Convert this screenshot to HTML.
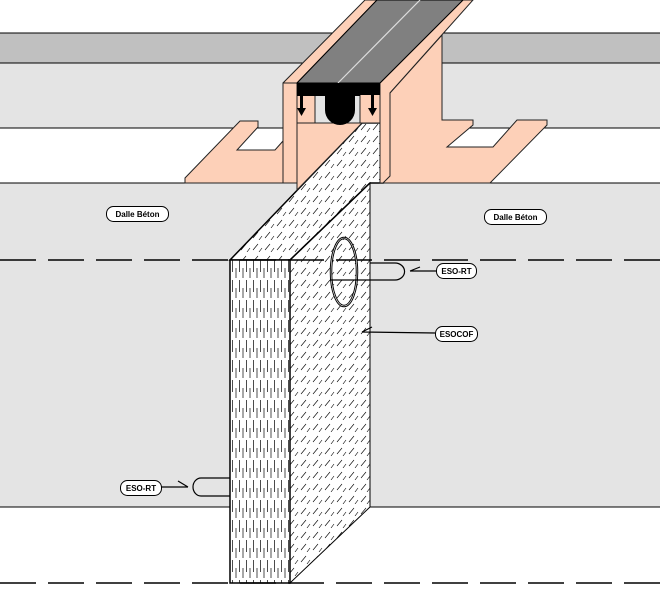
<!DOCTYPE html>
<html><head><meta charset="utf-8"><style>
html,body{margin:0;padding:0;background:#fff}
svg{display:block}
text{font-family:"Liberation Sans",sans-serif;font-weight:bold;font-size:8px}
</style></head><body>
<svg width="660" height="616" viewBox="0 0 660 616" xmlns="http://www.w3.org/2000/svg">
<defs>
<pattern id="vert" width="7" height="20" patternUnits="userSpaceOnUse">
<rect width="7" height="20" fill="#fff"/>
<line x1="1.5" y1="0" x2="1.5" y2="12" stroke="#000" stroke-width="0.7"/>
<line x1="5" y1="8" x2="5" y2="18" stroke="#000" stroke-width="0.7"/>
</pattern>
<pattern id="diag" width="12" height="12" patternUnits="userSpaceOnUse">
<rect width="12" height="12" fill="#fff"/>
<line x1="1" y1="10" x2="6" y2="4" stroke="#000" stroke-width="0.6"/>
<line x1="7" y1="12" x2="10" y2="8" stroke="#000" stroke-width="0.6"/>
</pattern>
</defs>
<rect x="0" y="33" width="660" height="30" fill="#c0c0c0"/>
<rect x="0" y="63" width="660" height="65" fill="#e4e4e4"/>
<rect x="0" y="183" width="660" height="324" fill="#e4e4e4"/>
<g stroke="#000" stroke-width="1">
<line x1="0" y1="33" x2="660" y2="33"/><line x1="0" y1="63" x2="660" y2="63"/>
<line x1="0" y1="128" x2="660" y2="128"/><line x1="0" y1="183" x2="660" y2="183"/>
<line x1="0" y1="507" x2="660" y2="507"/>
</g>
<!-- board -->
<polygon points="230,260 362,123 383,123 383,183 370,183 290,260" fill="url(#diag)" stroke="#000" stroke-width="1.5"/>
<polygon points="290,260 370,183 370,507 290,583" fill="url(#diag)" stroke="#000" stroke-width="1"/>
<line x1="290" y1="260" x2="370" y2="183" stroke="#000" stroke-width="1.5"/>
<rect x="230" y="260" width="60" height="323" fill="url(#vert)" stroke="#000" stroke-width="1.5"/>
<g stroke="#000" stroke-width="1.5" stroke-dasharray="36,12">
<line x1="0" y1="260" x2="660" y2="260"/>
<line x1="0" y1="583" x2="660" y2="583"/>
</g>
<!-- profiles -->
<g fill="#fdd0b8" stroke="#222" stroke-width="1">
<polygon points="297,123 362,123 297,190" />
<polygon points="185,183 185,178 240,121 258,121 258,127 237,150 275,150 283,141 283,83 365,0 377,0 297,83 297,183"/>
<polygon points="380,83 463,0 473,0 390,93 390,183 380,183"/>
<polygon points="390,93 442,35 442,120 473,120 473,125 447,147 493,147 517,120 547,120 547,125 490,183 383,183 390,176"/>
<polygon points="283,83 297,83 297,183 283,183"/>
</g>
<polygon points="297,83 377,0 463,0 380,83" fill="#808080" stroke="#000" stroke-width="1"/>
<line x1="338" y1="83" x2="420" y2="0" stroke="#ddd" stroke-width="1.2"/>
<rect x="297" y="93" width="18" height="30" fill="#fdd0b8" stroke="#222"/>
<rect x="360" y="93" width="20" height="30" fill="#fdd0b8" stroke="#222"/>
<path d="M297,83 H380 V95 H360 V96 H355 V110 A9,9 0 0 1 325,110 V96 H297 Z" fill="#000"/>
<g fill="#000">
<rect x="300" y="95" width="3" height="18"/><polygon points="297,108 306,108 301.5,116"/>
<rect x="371" y="95" width="3" height="18"/><polygon points="368,108 377,108 372.5,116"/>
</g>
<ellipse cx="344" cy="272" rx="13" ry="34" fill="none" stroke="#000" stroke-width="2.5"/>
<ellipse cx="344" cy="272" rx="13" ry="34" fill="none" stroke="#fff" stroke-width="0.6"/>
<g fill="none" stroke="#000" stroke-width="1.2">
<path d="M370,263 H395 A9,8 0 0 1 395,280 H330"/>
<path d="M410,271 L437,271 M410,271 L420,267"/>
<path d="M362,332 L435,333 M362,332 L372,327"/>
<path d="M230,478 H201 A8,9 0 0 0 201,496 H230"/>
<path d="M161,487 H188 M188,487 L178,481"/>
</g>
<g fill="#fff" stroke="#000" stroke-width="1">
<rect x="106.5" y="206.5" width="62" height="15" rx="7"/>
<rect x="484.5" y="209.5" width="62" height="15" rx="7"/>
<rect x="436.5" y="263.5" width="40" height="15" rx="7"/>
<rect x="435.5" y="326.5" width="42" height="15" rx="7"/>
<rect x="120.5" y="480.5" width="41" height="15" rx="7"/>
</g>
<text x="137.5" y="217" text-anchor="middle">Dalle Béton</text>
<text x="515.5" y="220" text-anchor="middle">Dalle Béton</text>
<text x="456.5" y="274" text-anchor="middle">ESO-RT</text>
<text x="456.5" y="337" text-anchor="middle">ESOCOF</text>
<text x="141" y="491" text-anchor="middle">ESO-RT</text>
</svg>
</body></html>
